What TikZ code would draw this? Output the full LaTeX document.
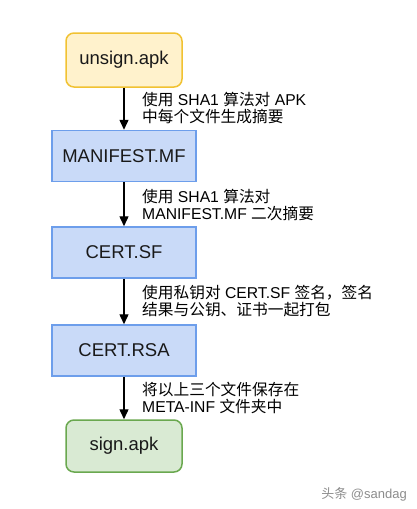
\documentclass[tikz,border=0pt]{standalone}
\usepackage{fontspec}
\setmainfont{Liberation Sans}
\newfontfamily\cjk{Noto Sans CJK SC}
\newcommand\zh[1]{{\cjk #1}}
\usetikzlibrary{arrows.meta}
\definecolor{yfill}{HTML}{FFF2CC}
\definecolor{ydraw}{HTML}{F1C232}
\definecolor{bfill}{HTML}{C9DAF8}
\definecolor{bdraw}{HTML}{6D9EEB}
\definecolor{gfill}{HTML}{D9EAD3}
\definecolor{gdraw}{HTML}{6AA84F}
\tikzset{
  boxbase/.style={inner sep=0pt, line width=1.5pt, font=\fontsize{18.5}{20}\selectfont, text=black!90},
  ybox/.style={boxbase, draw=ydraw, fill=yfill, rounded corners=8pt, minimum width=116pt, minimum height=54pt},
  bbox/.style={boxbase, draw=bdraw, fill=bfill, minimum width=144pt, minimum height=51pt},
  gbox/.style={boxbase, draw=gdraw, fill=gfill, rounded corners=8pt, minimum width=116pt, minimum height=52pt},
  lbl/.style={anchor=west, align=left, inner sep=0pt, font=\fontsize{15.7}{17}\selectfont},
  flow/.style={line width=1.4pt, -{Triangle[length=10pt,width=9pt]}}
}
\begin{document}
\begin{tikzpicture}[x=1pt,y=1pt]
\useasboundingbox (0,0) rectangle (416,-509);
\node[ybox] (a) at (124,-60) {unsign.apk};
\node[bbox] (b) at (124,-156) {MANIFEST.MF};
\node[bbox] (c) at (124,-252.5) {CERT.SF};
\node[bbox] (d) at (124,-350.5) {CERT.RSA};
\node[gbox] (e) at (124,-446) {sign.apk};
\draw[flow] (a) -- (b);
\draw[flow] (b) -- (c);
\draw[flow] (c) -- (d);
\draw[flow] (d) -- (e);
\node[lbl] (l1) at (142,-108) {\zh{使用} SHA1 \zh{算法对} APK\\\zh{中每个文件生成摘要}};
\node[lbl] (l2) at (142,-205.5) {\zh{使用} SHA1 \zh{算法对}\\MANIFEST.MF \zh{二次摘要}};
\node[lbl] (l3) at (142,-301) {\zh{使用私钥对} CERT.SF \zh{签名，签名}\\\zh{结果与公钥、证书一起打包}};
\node[lbl] (l4) at (142,-398) {\zh{将以上三个文件保存在}\\META-INF \zh{文件夹中}};
\node[anchor=east, inner sep=0pt, text=black!45, font=\fontsize{13}{14}\selectfont] (wm) at (407,-494) {\zh{头条} @sandag};
\end{tikzpicture}
\end{document}
